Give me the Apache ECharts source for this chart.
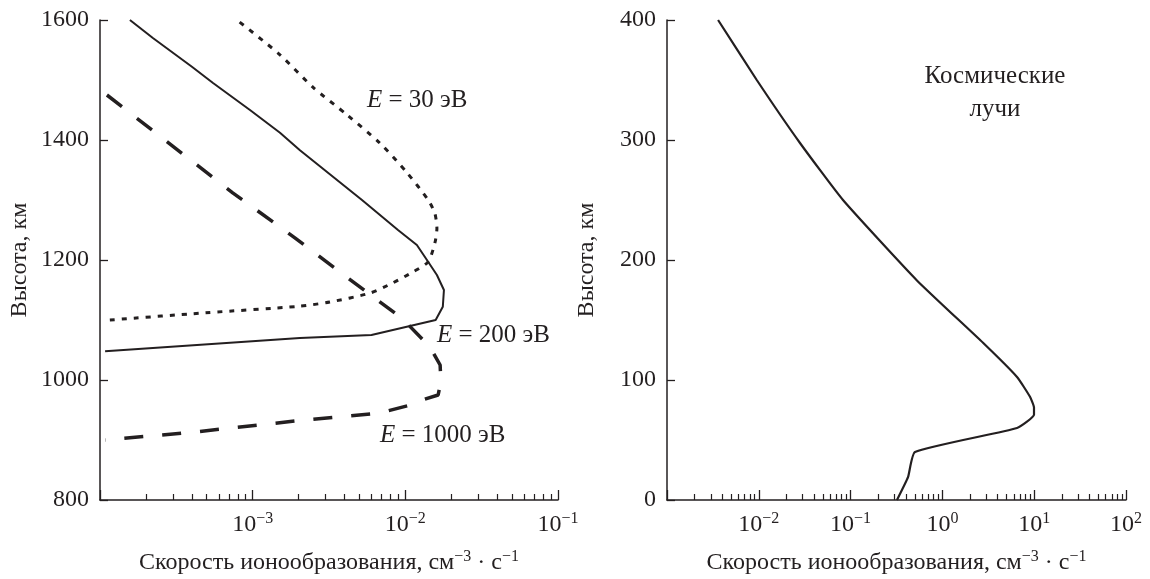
<!DOCTYPE html>
<html>
<head>
<meta charset="utf-8">
<script src="https://cdn.jsdelivr.net/npm/echarts@6/dist/echarts.min.js"></script>
<style>
    html, body { margin: 0; padding: 0; background: #fff; }
    #chart { width: 1150px; height: 579px; }
</style>
</head>
<body>
<div id="chart"></div>
<script>
// Left panel: ionization rate (cm^-3 s^-1) against altitude (km) for three electron energies
const e30Rate = [1.16e-4, 4.9e-4, 2.04e-3, 3.2e-3, 5.9e-3, 8.3e-3, 1.12e-2, 1.41e-2, 1.56e-2, 1.61e-2, 1.56e-2, 1.41e-2, 1.03e-2, 6.8e-3, 4.15e-3, 2.48e-3, 1.51e-3, 7.9e-4];
const e30Height = [1100, 1112, 1123, 1130, 1145, 1162, 1180, 1197, 1228, 1253, 1278, 1300, 1345, 1395, 1442, 1488, 1542, 1600];

const e200Rate = [1.08e-4, 2.04e-3, 6.0e-3, 1.58e-2, 1.76e-2, 1.79e-2, 1.61e-2, 1.41e-2, 1.19e-2, 8.95e-3, 5.2e-3, 2.04e-3, 1.51e-3, 9.6e-4, 5.5e-4, 4.0e-4, 2.22e-4, 1.57e-4];
const e200Height = [1048, 1070, 1075, 1100, 1122, 1150, 1175, 1197, 1225, 1250, 1300, 1383, 1412, 1450, 1495, 1522, 1570, 1600];

// listed from the top-left end so the dash pattern starts there
const e1000Rate = [1.11e-4, 7.4e-4, 1.89e-3, 3.73e-3, 5.9e-3, 9.5e-3, 1.45e-2, 1.69e-2, 1.71e-2, 1.64e-2, 1.3e-2, 1.07e-2, 6.8e-3, 1.95e-3, 4.06e-4, 1.08e-4];
const e1000Height = [1475, 1312, 1237, 1180, 1142, 1103, 1055, 1025, 997, 975, 967, 958, 945, 932, 913, 900];

// Right panel: cosmic rays
const cosmicRate = [0.32, 0.422, 0.503, 6.5, 9.95, 9.95, 9.0, 6.5, 2.77, 0.528, 8.26e-2, 2.81e-2, 9.5e-3, 3.6e-3];
const cosmicHeight = [0, 19, 40, 60, 71, 77, 86, 102.5, 131, 183, 250, 297.5, 350, 400];

// decade exponents that carry a label on each x axis
const leftDecades = [-3, -2, -1];
const rightDecades = [-2, -1, 0, 1, 2];
const leftHeightTicks = [800, 1000, 1200, 1400, 1600];
const rightHeightTicks = [0, 100, 200, 300, 400];

const xTitle = 'Скорость ионообразования, см{sup|\u22123} \u00b7 с{sup|\u22121}';
const yTitle = 'Высота, км';

const ink = '#231f20';
const serif = '"Liberation Serif", "DejaVu Serif", serif';

const pairs = (xs, ys) => xs.map((x, i) => [x, ys[i]]);

function powerLabel(shown) {
    return function (v) {
        const p = Math.round(Math.log10(v));
        if (shown.indexOf(p) < 0) return '';
        return '10{sup|' + String(p).replace('-', '\u2212') + '}';
    };
}

// minor ticks 2..9 inside each decade, in log10 space
function minorTicks(fromExp, toExp) {
    const out = [];
    for (let e = fromExp; e < toExp; e++) {
        for (let k = 2; k <= 9; k++) out.push(e + Math.log10(k));
    }
    return out;
}

const supRich = {
    sup: { fontSize: 16, fontFamily: serif, color: ink, verticalAlign: 'top', lineHeight: 14 }
};

function rateAxis(grid, min, max, shown) {
    return {
        type: 'log',
        logBase: 10,
        gridIndex: grid,
        position: 'bottom',
        min: min,
        max: max,
        axisLine: { show: true, onZero: false, lineStyle: { color: ink, width: 1.5 } },
        axisTick: { show: true, inside: true, length: 10, lineStyle: { color: ink, width: 1.3 } },
        axisLabel: {
            formatter: powerLabel(shown),
            color: ink, fontFamily: serif, fontSize: 24, lineHeight: 28, margin: 11,
            rich: supRich
        },
        splitLine: { show: false },
        minorTick: { show: false },
        name: xTitle,
        nameLocation: 'middle',
        nameGap: 49,
        nameTextStyle: {
            color: ink, fontFamily: serif, fontSize: 24, lineHeight: 28,
            rich: supRich
        }
    };
}

function minorAxis(grid, fromExp, toExp) {
    return {
        type: 'value',
        gridIndex: grid,
        position: 'bottom',
        min: fromExp,
        max: toExp,
        axisLine: { show: false, onZero: false },
        axisLabel: { show: false },
        splitLine: { show: false },
        axisTick: {
            show: true, inside: true, length: 6,
            customValues: minorTicks(fromExp, toExp),
            lineStyle: { color: ink, width: 1.2 }
        }
    };
}

function heightAxis(grid, ticks) {
    return {
        type: 'value',
        gridIndex: grid,
        position: 'left',
        min: ticks[0],
        max: ticks[ticks.length - 1],
        interval: ticks[1] - ticks[0],
        axisLine: { show: true, onZero: false, lineStyle: { color: ink, width: 1.5 } },
        axisTick: { show: true, inside: true, length: 8, lineStyle: { color: ink, width: 1.3 } },
        axisLabel: { color: ink, fontFamily: serif, fontSize: 24, margin: 11, formatter: v => String(v) },
        splitLine: { show: false },
        name: yTitle,
        nameLocation: 'middle',
        nameGap: 68,
        nameRotate: 90,
        nameTextStyle: { color: ink, fontFamily: serif, fontSize: 24 }
    };
}

function curve(xi, yi, data, type, width, smooth) {
    return {
        type: 'line',
        xAxisIndex: xi,
        yAxisIndex: yi,
        data: data,
        showSymbol: false,
        smooth: smooth || false,
        lineStyle: { color: ink, width: width, type: type, cap: 'butt' },
        emphasis: { disabled: true }
    };
}

function note(x, y, text, align) {
    return {
        type: 'text',
        x: x,
        y: y,
        style: {
            text: text,
            fill: ink,
            font: '25px ' + serif,
            align: align || 'left',
            verticalAlign: 'middle',
            lineHeight: 33,
            rich: { i: { fontStyle: 'italic', fontFamily: serif, fontSize: 25, fill: ink } }
        }
    };
}

const chart = echarts.init(document.getElementById('chart'), null, { renderer: 'canvas' });

chart.setOption({
    animation: false,
    backgroundColor: '#fff',
    textStyle: { fontFamily: serif, color: ink },
    grid: [
        { left: 100, top: 20, width: 458, height: 480, containLabel: false, outerBoundsMode: 'none' },
        { left: 667, top: 20, width: 459, height: 480, containLabel: false, outerBoundsMode: 'none' }
    ],
    xAxis: [
        rateAxis(0, 1e-4, 1e-1, leftDecades),
        minorAxis(0, -4, -1),
        rateAxis(1, 1e-3, 1e2, rightDecades),
        minorAxis(1, -3, 2)
    ],
    yAxis: [
        heightAxis(0, leftHeightTicks),
        heightAxis(1, rightHeightTicks)
    ],
    series: [
        curve(0, 0, pairs(e30Rate, e30Height), [5, 7], 3, 0.25),
        curve(0, 0, pairs(e200Rate, e200Height), 'solid', 2),
        curve(0, 0, pairs(e1000Rate, e1000Height), [19, 19], 3.5),
        curve(2, 1, pairs(cosmicRate, cosmicHeight), 'solid', 2.2, 0.15)
    ],
    graphic: [
        note(367, 100, '{i|E} = 30 эВ'),
        note(437, 335, '{i|E} = 200 эВ'),
        note(380, 435, '{i|E} = 1000 эВ'),
        note(995, 93, 'Космические\nлучи', 'center')
    ]
});
</script>
</body>
</html>
